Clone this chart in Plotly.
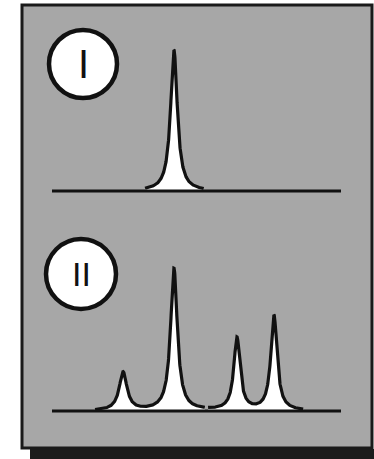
import numpy as np
import plotly.graph_objects as go

# ---- data ----
# Chromatogram I: one peak
peaks_I_pos = [4.22]
peaks_I_height = [100]
peaks_I_width = [0.14]
segments_I = [(3.22, 5.25)]

# Chromatogram II: four peaks
peaks_II_pos = [2.46, 4.22, 6.40, 7.68]
peaks_II_height = [27, 100, 51, 67]
peaks_II_width = [0.16, 0.14, 0.13, 0.13]
segments_II = [(1.49, 5.29), (5.40, 8.69)]

labels = ["I", "II"]

# ---- layout geometry (pixels) ----
W, H = 374, 459
def px_x(p): return p / W
def px_y(p): return 1 - p / H

X0_PX, X1_PX = 52, 341          # baseline span
XRANGE = [0, 10]
YRANGE = [-5, 110]

def ydomain(base_px, top_px):
    ppu = (base_px - top_px) / 100.0
    lo = base_px - YRANGE[0] * ppu
    hi = base_px - YRANGE[1] * ppu
    return [px_y(lo), px_y(hi)]

fig = go.Figure()

def lorentz(t, pos, hts, wds):
    y = np.zeros_like(t)
    for p, h, w in zip(pos, hts, wds):
        y += h / (1 + ((t - p) / w) ** 2)
    return y

def add_panel(pos, hts, wds, segs, xa, ya):
    for a, b in segs:
        t = np.linspace(a, b, 600)
        y = lorentz(t, pos, hts, wds)
        fig.add_trace(go.Scatter(x=t, y=y, mode="lines", fill="tozeroy",
                                 fillcolor="white",
                                 line=dict(color="#111111", width=3.2),
                                 xaxis=xa, yaxis=ya, hoverinfo="skip",
                                 showlegend=False))
    fig.add_trace(go.Scatter(x=XRANGE, y=[0, 0], mode="lines",
                             line=dict(color="#111111", width=3),
                             xaxis=xa, yaxis=ya, hoverinfo="skip",
                             showlegend=False))

add_panel(peaks_I_pos, peaks_I_height, peaks_I_width, segments_I, "x", "y")
add_panel(peaks_II_pos, peaks_II_height, peaks_II_width, segments_II, "x2", "y2")

axis_common = dict(visible=False, showgrid=False, zeroline=False, fixedrange=True)
xdom = [px_x(X0_PX), px_x(X1_PX)]

shapes = [
    # shadow bar
    dict(type="rect", xref="paper", yref="paper",
         x0=px_x(30), x1=px_x(374), y0=px_y(459), y1=px_y(449),
         fillcolor="#1c1c1c", line=dict(width=0), layer="below"),
    # gray panel
    dict(type="rect", xref="paper", yref="paper",
         x0=px_x(22), x1=px_x(372), y0=px_y(448), y1=px_y(5),
         fillcolor="#a7a7a7", line=dict(color="#1a1a1a", width=3), layer="below"),
]
circles = [(83, 64, 34), (81, 274, 35)]
for cx, cy, r in circles:
    shapes.append(dict(type="circle", xref="paper", yref="paper",
                       x0=px_x(cx - r), x1=px_x(cx + r),
                       y0=px_y(cy + r), y1=px_y(cy - r),
                       fillcolor="white", line=dict(color="#111111", width=4.5)))

annotations = []
for (cx, cy, r), lab, fs in zip(circles, labels, [40, 34]):
    annotations.append(dict(text=lab, xref="paper", yref="paper",
                            x=px_x(cx), y=px_y(cy), xanchor="center", yanchor="middle",
                            showarrow=False,
                            font=dict(family="Liberation Sans, Arial", size=fs, color="#111111")))

fig.update_layout(
    width=W, height=H, margin=dict(l=0, r=0, t=0, b=0),
    paper_bgcolor="white", plot_bgcolor="rgba(0,0,0,0)",
    showlegend=False,
    xaxis=dict(domain=xdom, range=XRANGE, anchor="y", **axis_common),
    yaxis=dict(domain=ydomain(191, 50), range=YRANGE, anchor="x", **axis_common),
    xaxis2=dict(domain=xdom, range=XRANGE, anchor="y2", **axis_common),
    yaxis2=dict(domain=ydomain(411, 269), range=YRANGE, anchor="x2", **axis_common),
    shapes=shapes, annotations=annotations,
)

fig.write_html("out.html")
